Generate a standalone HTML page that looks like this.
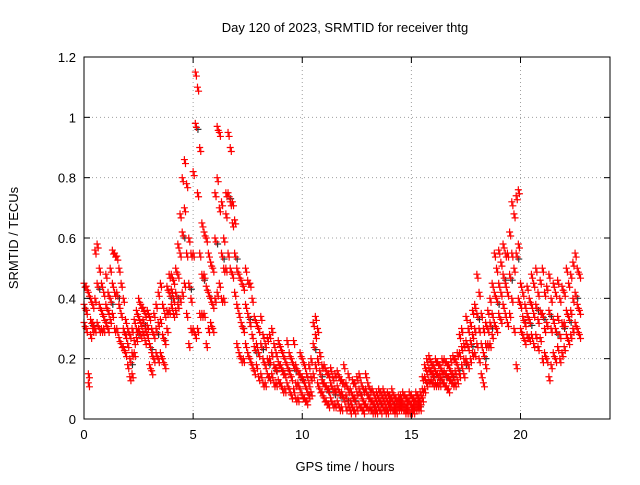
<!DOCTYPE html>
<html><head><meta charset="utf-8"><style>
body{margin:0;background:#fff;}
svg text{font-family:"Liberation Sans",sans-serif;font-size:13px;fill:#000;}
</style></head><body>
<svg id="chart" width="640" height="480" xmlns="http://www.w3.org/2000/svg">
<text x="345" y="32" text-anchor="middle">Day 120 of 2023, SRMTID for receiver thtg</text>
<text x="345" y="471" text-anchor="middle">GPS time / hours</text>
<text transform="translate(18,238) rotate(-90)" text-anchor="middle">SRMTID / TECUs</text>
<g id="grid"></g><g id="pts"></g>
<rect x="84" y="57" width="526" height="362" fill="none" stroke="#000" stroke-width="1"/>
<g id="ticks"></g>
</svg>
<script>
const xTicks=[0,5,10,15,20];
const yTicks=[0,0.2,0.4,0.6,0.8,1,1.2];
const yTickLabels=["0","0.2","0.4","0.6","0.8","1","1.2"];
const tStart=0, tStep=0.1;
const seriesHigh=[.45,.44,.42,.40,.38,.56,.58,.50,.45,.42,.48,.42,.50,.56,.55,.54,.50,.45,.40,.33,.30,.28,.30,.33,.36,.40,.38,.37,.35,.36,.34,.30,.35,.38,.42,.45,.38,.35,.44,.48,.48,.46,.50,.58,.68,.80,.86,.78,.60,.55,.82,1.15,1.10,.90,.65,.62,.60,.55,.52,.50,.75,.97,.95,.72,.60,.75,.95,.90,.72,.66,.50,.48,.46,.44,.50,.46,.45,.40,.34,.32,.30,.34,.28,.25,.27,.28,.30,.25,.22,.26,.24,.22,.20,.26,.22,.20,.26,.18,.16,.22,.20,.18,.15,.18,.20,.32,.34,.30,.22,.18,.18,.16,.15,.17,.14,.15,.16,.14,.13,.18,.12,.15,.10,.13,.12,.14,.15,.12,.10,.15,.12,.10,.10,.08,.09,.10,.09,.10,.08,.09,.08,.10,.08,.07,.08,.08,.09,.08,.07,.09,.08,.07,.09,.08,.09,.14,.18,.20,.21,.19,.18,.20,.19,.18,.20,.20,.19,.18,.20,.21,.20,.22,.28,.30,.25,.34,.30,.32,.36,.38,.48,.42,.35,.30,.32,.36,.40,.45,.55,.50,.56,.52,.58,.55,.55,.62,.72,.68,.74,.76,.45,.42,.38,.44,.40,.48,.45,.50,.42,.46,.50,.42,.44,.48,.40,.45,.42,.46,.40,.44,.42,.50,.45,.48,.52,.55,.50,.48];
const seriesMid=[.38,.36,.15,.33,.32,.40,.45,.38,.36,.34,.38,.36,.40,.45,.42,.42,.38,.35,.30,.28,.25,.20,.22,.26,.30,.34,.32,.33,.30,.31,.25,.22,.28,.30,.32,.33,.28,.26,.36,.42,.43,.40,.42,.48,.55,.62,.70,.55,.45,.40,.55,.98,.75,.55,.48,.48,.44,.42,.40,.38,.60,.80,.70,.55,.50,.68,.75,.72,.65,.55,.38,.35,.32,.30,.38,.35,.32,.28,.24,.25,.22,.25,.20,.18,.20,.20,.22,.18,.17,.19,.18,.16,.15,.18,.16,.14,.18,.12,.12,.15,.14,.12,.10,.12,.14,.25,.28,.20,.16,.13,.12,.11,.10,.12,.10,.10,.11,.09,.09,.12,.08,.10,.06,.08,.07,.09,.10,.08,.06,.10,.08,.07,.06,.05,.06,.07,.06,.07,.05,.06,.06,.07,.05,.05,.06,.06,.06,.05,.05,.06,.05,.05,.06,.06,.06,.10,.14,.16,.17,.16,.15,.16,.15,.15,.16,.16,.15,.14,.16,.15,.16,.18,.22,.24,.20,.26,.24,.26,.28,.30,.35,.30,.25,.22,.25,.30,.32,.35,.42,.40,.45,.42,.48,.45,.42,.48,.55,.50,.55,.58,.38,.34,.32,.35,.33,.38,.35,.38,.33,.36,.35,.30,.32,.36,.30,.33,.30,.34,.28,.32,.32,.36,.34,.36,.40,.42,.38,.36];
const seriesLow=[.32,.30,.12,.28,.30,.30,.32,.30,.30,.30,.32,.30,.33,.35,.30,.30,.27,.25,.24,.22,.18,.14,.15,.22,.27,.30,.28,.29,.26,.28,.18,.16,.20,.22,.20,.22,.20,.18,.30,.36,.38,.35,.36,.38,.40,.42,.45,.35,.25,.30,.30,.28,.30,.35,.35,.35,.25,.30,.32,.30,.40,.42,.45,.40,.40,.50,.55,.50,.48,.42,.25,.22,.20,.20,.25,.22,.20,.18,.16,.18,.14,.15,.12,.12,.15,.14,.15,.12,.12,.13,.12,.10,.10,.12,.10,.08,.10,.07,.07,.10,.08,.07,.06,.08,.09,.15,.18,.12,.10,.09,.07,.06,.05,.07,.05,.05,.06,.04,.04,.07,.04,.05,.03,.04,.03,.04,.05,.04,.03,.05,.04,.04,.03,.03,.03,.04,.03,.04,.03,.03,.04,.04,.03,.03,.04,.04,.04,.03,.03,.03,.03,.03,.04,.04,.04,.07,.10,.12,.13,.13,.12,.12,.12,.12,.13,.12,.11,.10,.13,.12,.12,.13,.15,.18,.15,.20,.18,.20,.22,.22,.25,.20,.15,.12,.18,.25,.25,.28,.32,.30,.35,.33,.38,.35,.32,.35,.40,.30,.18,.40,.30,.28,.26,.28,.27,.28,.25,.28,.24,.27,.20,.22,.20,.14,.18,.22,.20,.24,.20,.22,.24,.28,.26,.28,.30,.32,.30,.28];
const X0=84,X1=610,XMAX=24.1,Y0=419,Y1=57,YMAX=1.2;
const xs=v=>X0+(v/XMAX)*(X1-X0);
const ys=v=>Y0-(v/YMAX)*(Y0-Y1);
const NS="http://www.w3.org/2000/svg";
function mk(tag,attrs,parent){const e=document.createElementNS(NS,tag);for(const k in attrs)e.setAttribute(k,attrs[k]);parent.appendChild(e);return e;}
const grid=document.getElementById('grid'),ticks=document.getElementById('ticks'),pts=document.getElementById('pts');
yTicks.forEach((v,i)=>{const y=ys(v);
 if(i>0&&i<yTicks.length-1){const g=mk('line',{x1:X0,x2:X1,y1:y,y2:y,stroke:'#a0a0a0','stroke-dasharray':'1,3'},grid);
 
 }
 mk('line',{x1:X0,x2:X0+6,y1:y,y2:y,stroke:'#000'},ticks);
 mk('line',{x1:X1,x2:X1-6,y1:y,y2:y,stroke:'#000'},ticks);
 const t=mk('text',{x:X0-8,y:y+5,'text-anchor':'end'},ticks);t.textContent=yTickLabels[i];
 
 });
xTicks.forEach(v=>{const x=xs(v);
 if(v>0){const g=mk('line',{x1:x,x2:x,y1:Y0,y2:Y1,stroke:'#a0a0a0','stroke-dasharray':'1,3'},grid);
 
 }
 mk('line',{x1:x,x2:x,y1:Y0,y2:Y0-6,stroke:'#000'},ticks);
 mk('line',{x1:x,x2:x,y1:Y1,y2:Y1+6,stroke:'#000'},ticks);
 const t=mk('text',{x:x,y:Y0+20,'text-anchor':'middle'},ticks);t.textContent=String(v);
 
 });
function cross(x,y,col){const p=mk('path',{d:`M${x-3.5},${y}h7M${x},${y-3.5}v7`,stroke:col,'stroke-width':1.2,fill:'none'},pts);
 
 }
// black receiver points underneath (sparse)
seriesMid.forEach((v,i)=>{if(i%3===0){const t=tStart+i*tStep+0.12;cross(xs(t),ys(v)+6,'#333333');}});
[seriesLow,seriesMid,seriesHigh].forEach(s=>s.forEach((v,i)=>{const t=tStart+i*tStep;cross(xs(t),ys(v),'#ff0000');cross(xs(t+0.05),ys(v)+4,'#ff0000');}));
</script>
</body></html>
